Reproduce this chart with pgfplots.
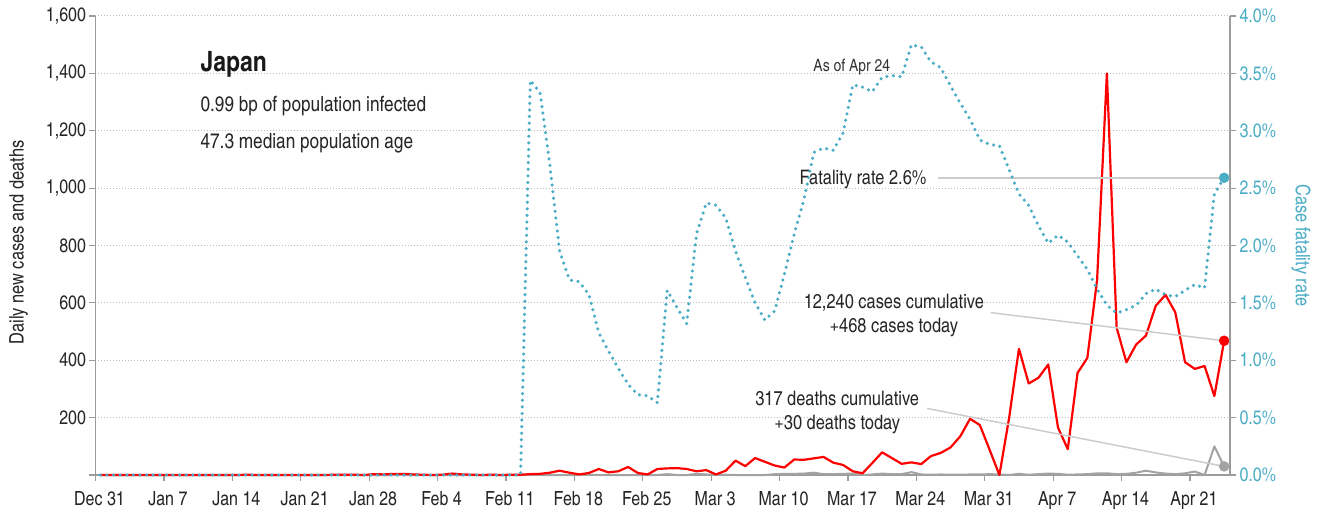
\documentclass[border=0pt]{standalone}
\usepackage{fontspec}
\setmainfont{TeX Gyre Heros Cn}
\usepackage{pgfplots}
\pgfplotsset{compat=1.18}
\usepackage{pgfplotstable}
\definecolor{cfrblue}{HTML}{4BACC6}
\definecolor{casered}{HTML}{FF0000}
\definecolor{deathgray}{HTML}{A3A3A3}
\definecolor{axisgray}{HTML}{9C9C9C}
\definecolor{gridgray}{HTML}{BDBDBD}
\definecolor{leadgray}{HTML}{CCCCCC}
\newcommand\tl{\fontsize{19.5}{22}\selectfont}
\newcommand\al{\fontsize{20}{22}\selectfont}

\pgfplotstableread{
d cases deaths cfr
0 0 0 0
1 0 0 0
2 0 0 0
3 0 0 0
4 0 0 0
5 0 0 0
6 0 0 0
7 0 0 0
8 0 0 0
9 0 0 0
10 0 0 0
11 0 0 0
12 0 0 0
13 0 0 0
14 0 0 0
15 1 0 0
16 0 0 0
17 0 0 0
18 0 0 0
19 0 0 0
20 0 0 0
21 0 0 0
22 0 0 0
23 0 0 0
24 1 0 0
25 1 0 0
26 1 0 0
27 0 0 0
28 3 0 0
29 2 0 0
30 4 0 0
31 4 0 0
32 2 0 0
33 1 0 0
34 0 0 0
35 1 0 0
36 5 0 0
37 2 0 0
38 1 0 0
39 0 0 0
40 1 0 0
41 0 0 0
42 1 0 0
43 1 0 0
44 3 1 3.44
45 4 0 3.33
46 8 0 2.70
47 15 0 1.95
48 8 0 1.70
49 2 0 1.685
50 7 1 1.57
51 21 0 1.24
52 9 0 1.08
53 13 0 0.93
54 28 0 0.79
55 7 0 0.70
56 2 0 0.69
57 21 0 0.63
58 23 3 1.61
59 24 0 1.46
60 21 0 1.32
61 13 4 2.10
62 17 2 2.37
63 2 0 2.35
64 15 1 2.24
65 50 0 1.95
66 31 0 1.72
67 59 0 1.50
68 46 0 1.35
69 33 3 1.43
70 26 4 1.75
71 54 4 2.10
72 53 5 2.40
73 58 8 2.81
74 63 3 2.85
75 43 3 2.83
76 35 4 2.98
77 13 5 3.40
78 6 0 3.38
79 42 2 3.34
80 79 5 3.465
81 59 3 3.48
82 39 3 3.47
83 44 10 3.75
84 38 2 3.73
85 66 1 3.60
86 77 2 3.55
87 96 1 3.39
88 135 1 3.24
89 196 2 3.10
90 174 2 2.92
91 88 3 2.88
92 0 2 2.87
93 200 0 2.66
94 440 4 2.45
95 319 1 2.35
96 339 3 2.17
97 385 5 2.02
98 165 4 2.09
99 90 1 2.03
100 356 2 1.91
101 408 3 1.79
102 680 6 1.62
103 1400 6 1.48
104 513 3 1.41
105 393 4 1.44
106 455 8 1.48
107 486 15 1.58
108 590 9 1.62
109 628 5 1.57
110 567 3 1.555
111 393 6 1.61
112 370 12 1.66
113 380 0 1.63
114 275 100 2.45
115 468 30 2.59
}\covid

\pgfplotsset{
  twin/.style={
    scale only axis, width=1134.5pt, height=459pt,
    xmin=0, xmax=116.1, clip=false,
    tick align=outside, major tick length=6pt,
    axis line style={-},
  }
}

\begin{document}
\begin{tikzpicture}
\begin{axis}[twin,
  ymin=0, ymax=1600,
  axis y line*=left, axis x line*=bottom,
  x axis line style={axisgray, line width=2pt},
  y axis line style={axisgray, line width=1.5pt},
  every tick/.style={axisgray, line width=1.2pt},
  xtick={0,7,...,112},
  xticklabels={Dec 31,Jan 7,Jan 14,Jan 21,Jan 28,Feb 4,Feb 11,Feb 18,Feb 25,Mar 3,Mar 10,Mar 17,Mar 24,Mar 31,Apr 7,Apr 14,Apr 21},
  ytick={0,200,400,600,800,1000,1200,1400,1600},
  yticklabels={{},200,400,600,800,{1,000},{1,200},{1,400},{1,600}},
  ticklabel style={font=\tl, text=black!85},
  xticklabel style={yshift=-7pt, xshift=4pt},
  ymajorgrids,
  major grid style={gridgray, line width=1pt, dash pattern=on 1pt off 2pt},
  ylabel={Daily new cases and deaths},
  every axis y label/.style={at={(rel axis cs:0,0.5)}, xshift=-77pt, yshift=3pt, rotate=90, anchor=center, font=\al, text=black!85},
]
\coordinate (bl) at (rel axis cs:0,0);
\coordinate (tr) at (rel axis cs:1,1);
\addplot[deathgray, line width=2pt, line join=round] table[x expr=\thisrow{d}+0.5, y=deaths] {\covid};
\addplot[casered, line width=2.2pt, line join=round] table[x expr=\thisrow{d}+0.5, y=cases] {\covid};
% leader lines
\draw[leadgray, line width=1.5pt] (axis cs:86.2,1036) -- (axis cs:115.5,1036);
\draw[leadgray, line width=1.5pt] (axis cs:91.6,566) -- (axis cs:115.5,468);
\draw[leadgray, line width=1.5pt] (axis cs:85.1,232) -- (axis cs:115.5,30);
\addplot[only marks, mark=*, mark size=5pt, casered] coordinates {(115.5,468)};
\addplot[only marks, mark=*, mark size=5pt, deathgray] coordinates {(115.5,30)};
% texts
\node[anchor=base west, font=\fontsize{28}{30}\selectfont\bfseries, text=black!90] at (axis cs:10.39,1405) {Japan};
\node[anchor=base west, font=\fontsize{21}{23}\selectfont, text=black!85] at (axis cs:10.39,1266) {0.99 bp of population infected};
\node[anchor=base west, font=\fontsize{21}{23}\selectfont, text=black!85] at (axis cs:10.39,1139) {47.3 median population age};
\node[anchor=base, font=\fontsize{17}{19}\selectfont, text=black!80] at (axis cs:77.4,1405) {As of Apr 24};
\node[anchor=base east, font=\al, text=black!85] at (axis cs:85.4,1011) {Fatality rate 2.6\%};
\node[anchor=base, font=\al, text=black!85] at (axis cs:81.7,582) {12,240 cases cumulative};
\node[anchor=base, font=\al, text=black!85] at (axis cs:81.7,495) {+468 cases today};
\node[anchor=base, font=\al, text=black!85] at (axis cs:75.9,244) {317 deaths cumulative};
\node[anchor=base, font=\al, text=black!85] at (axis cs:75.9,157) {+30 deaths today};
\end{axis}
\begin{axis}[twin,
  ymin=0, ymax=4,
  axis y line*=right, axis x line=none,
  y axis line style={axisgray, line width=1.5pt},
  every tick/.style={axisgray, line width=1.2pt},
  ytick={0,0.5,1,1.5,2,2.5,3,3.5,4},
  yticklabels={0.0\%,0.5\%,1.0\%,1.5\%,2.0\%,2.5\%,3.0\%,3.5\%,4.0\%},
  yticklabel style={font=\tl, text=cfrblue},
  ylabel={Case fatality rate},
  every axis y label/.style={at={(rel axis cs:1,0.5)}, xshift=71pt, rotate=-90, anchor=center, font=\al, text=cfrblue},
]
\addplot[cfrblue, line width=3.5pt, line cap=round, dash pattern=on 0pt off 6.6pt] table[x expr=\thisrow{d}+0.5, y=cfr] {\covid};
\addplot[only marks, mark=*, mark size=5pt, cfrblue] coordinates {(115.5,2.59)};
\end{axis}
\pgfresetboundingbox
\path ([xshift=-95.5pt,yshift=-42pt]bl) rectangle ([xshift=89pt,yshift=16pt]tr);
\end{tikzpicture}
\end{document}
